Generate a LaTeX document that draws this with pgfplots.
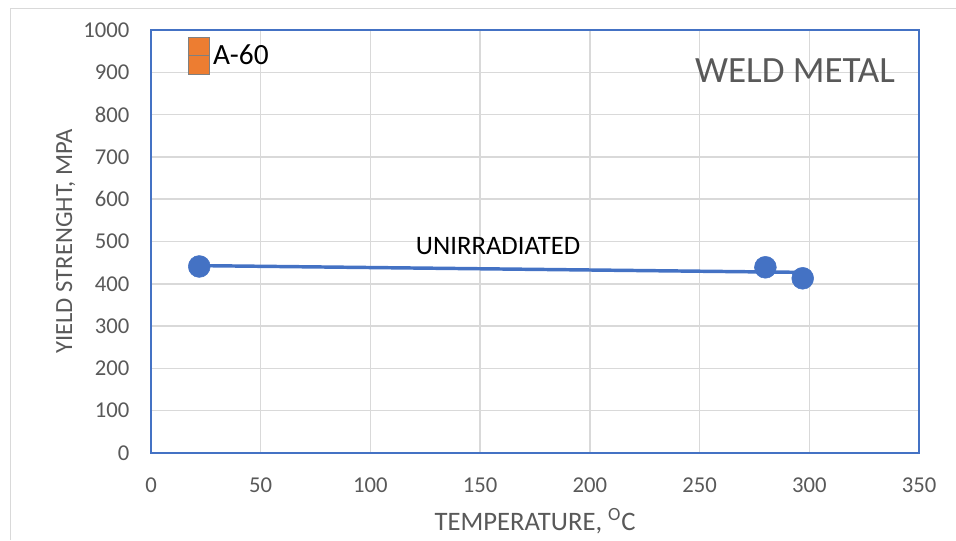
\documentclass[border=0pt]{standalone}
\usepackage{fontspec}
\setmainfont{Carlito}
\usepackage{pgfplots}
\pgfplotsset{compat=1.18}
\definecolor{xlblue}{HTML}{4472C4}
\definecolor{xlorange}{HTML}{ED7D31}
\definecolor{xlgray}{HTML}{595959}
\definecolor{xlgrid}{HTML}{D9D9D9}
\begin{document}
\begin{tikzpicture}
\path[use as bounding box] (-113.25pt,-65.25pt) rectangle (603.75pt,339.75pt);
\draw[xlgrid,line width=0.6pt] (-105.75pt,-65.25pt) -- (-105.75pt,333.75pt) -- (603.75pt,333.75pt);
\begin{axis}[
    at={(0,0)}, anchor=south west,
    scale only axis,
    width=576pt, height=317.25pt,
    xmin=0, xmax=350, ymin=0, ymax=1000,
    xtick={0,50,...,350}, ytick={0,100,...,1000},
    grid=major,
    major grid style={xlgrid, line width=1.1pt},
    axis line style={xlblue, line width=1.5pt},
    tick style={draw=none},
    /pgf/number format/assume math mode=true,
    /pgf/number format/1000 sep={},
    tick label style={font=\fontsize{17}{20}\selectfont, text=xlgray},
    xticklabel style={yshift=-15pt},
    yticklabel style={xshift=-12.75pt},
    xlabel={TEMPERATURE, \textsuperscript{O}C},
    ylabel={YIELD STRENGHT, MPA},
    label style={text=xlgray},
    xlabel style={font=\fontsize{20}{23}\selectfont, at={(axis description cs:0.5,-0.1608)}, anchor=center},
    ylabel style={font=\fontsize{18.5}{21}\selectfont, at={(axis description cs:-0.111,0.5)}, anchor=center},
    legend style={at={(axis description cs:0.048,0.985)}, anchor=north west,
        draw=none, fill=none, inner sep=0pt,
        font=\fontsize{22}{25}\selectfont},
    legend cell align=left,
]
% trend line through the measured points
\addplot[xlblue, line width=2.6pt, forget plot] coordinates {(22,443) (297,427)};
\addplot[only marks, mark=*, mark size=8.2pt, xlblue, forget plot]
    coordinates {(22,441) (280,439) (297,413)};
\addlegendimage{legend image code/.code={
    \draw[draw=gray, fill=xlorange, line width=0.8pt] (0pt,-13.9pt) rectangle (15.75pt,13.9pt);
    \draw[gray, line width=1pt] (0pt,0pt) -- (15.75pt,0pt);}}
\addlegendentry{A-60}
\node[font=\fontsize{20}{23}\selectfont] at (axis cs:158.2,489) {UNIRRADIATED};
\node[font=\fontsize{27.8}{32}\selectfont, text=xlgray] at (axis cs:293.5,905) {WELD METAL};
\end{axis}
\end{tikzpicture}
\end{document}
